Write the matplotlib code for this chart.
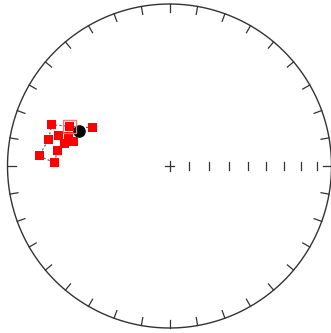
import numpy as np
import matplotlib
matplotlib.use('Agg')
from matplotlib import pyplot as plt

# demag steps (declination, inclination), in path order
dec = [296.5, 291.6, 289.4, 282.4, 274.5, 271.5, 277.8, 282.3, 285.2, 286.3, 284.3]
inc = [46.0, 34.0, 24.0, 24.6, 20.4, 29.8, 30.6, 33.8, 30.0, 35.4, 39.0]
# highlighted step and mean direction
nrm_dec, nrm_inc = 291.6, 34.0
mean_dec, mean_inc = 291.5, 40.0
inc_ticks = [10, 20, 30, 40, 50, 60, 70, 80]


def eqarea(d, i):
    d = np.radians(np.asarray(d, dtype=float))
    i = np.abs(np.asarray(i, dtype=float))
    r = np.sqrt(2) * np.sin(np.radians(90 - i) / 2)
    return r * np.sin(d), r * np.cos(d)


fig = plt.figure(figsize=(3.31, 3.33), dpi=100)
ax = fig.add_axes([7.5 / 331, 5 / 333, 324 / 331, 324 / 333])
ax.set_xlim(-1, 1)
ax.set_ylim(-1, 1)
ax.set_aspect('equal')
ax.axis('off')

# primitive circle and azimuth ticks
t = np.linspace(0, 2 * np.pi, 400)
ax.plot(np.cos(t), np.sin(t), color='#333333', lw=1.0, clip_on=False)
for az in range(0, 360, 10):
    a = np.radians(az)
    ax.plot([0.95 * np.sin(a), np.sin(a)], [0.95 * np.cos(a), np.cos(a)],
            color='#333333', lw=0.9, clip_on=False)

# inclination ticks along east axis
for i in inc_ticks:
    x, _ = eqarea(90, i)
    ax.plot([x, x], [-0.024, 0.024], color='#333333', lw=0.9)
ax.plot([-0.03, 0.03], [0, 0], color='#333333', lw=0.9)
ax.plot([0, 0], [-0.03, 0.03], color='#333333', lw=0.9)

x, y = eqarea(dec, inc)
ax.plot(x, y, color='#555555', lw=0.8, ls=(0, (2, 2)), zorder=2)

mx, my = eqarea(mean_dec, mean_inc)
ax.scatter(mx, my, marker='o', s=65, color='black', zorder=2.5)

ax.scatter(x, y, marker='s', s=42, color='red', edgecolors='none', zorder=3)

nx, ny = eqarea(nrm_dec, nrm_inc)
ax.scatter(nx, ny, marker='s', s=95, facecolors='none', edgecolors='#e08080', lw=1.0, zorder=4)

fig.savefig('out.png', dpi=100)
